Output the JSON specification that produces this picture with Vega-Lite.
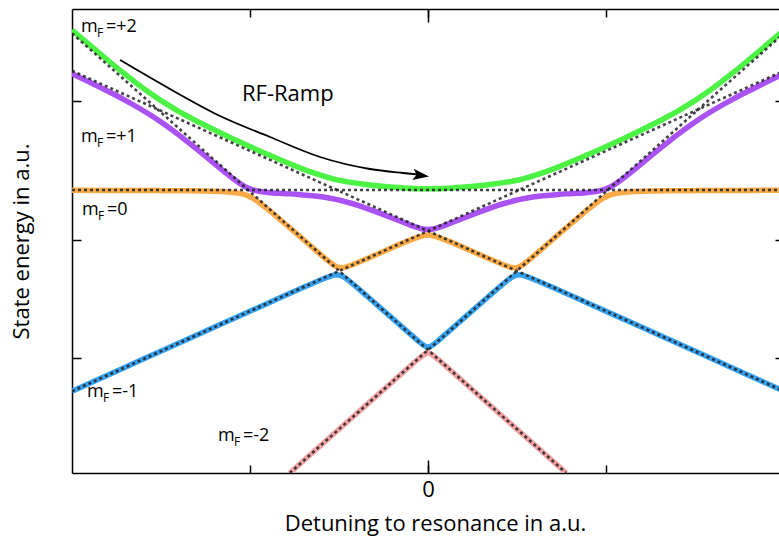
{
  "$schema": "https://vega.github.io/schema/vega-lite/v6.json",
  "width": 707,
  "height": 464,
  "autosize": {"type": "none"},
  "padding": {"left": 72, "top": 9, "right": 0, "bottom": 69},
  "background": "white",
  "config": {"view": {"stroke": null}, "font": "Open Sans"},
  "datasets": {
    "adiabatic": [
      {"s":"green","u":-356,"E":443.0},{"s":"green","u":-340,"E":429.3},{"s":"green","u":-320,"E":412.5},{"s":"green","u":-305,"E":400.3},{"s":"green","u":-290,"E":388.6},{"s":"green","u":-278,"E":379.9},{"s":"green","u":-270,"E":374.4},{"s":"green","u":-262,"E":369.3},{"s":"green","u":-252,"E":363.2},{"s":"green","u":-240,"E":356.5},{"s":"green","u":-225,"E":348.7},{"s":"green","u":-200,"E":336.5},{"s":"green","u":-180,"E":327.3},{"s":"green","u":-160,"E":318.4},{"s":"green","u":-145,"E":312.0},{"s":"green","u":-130,"E":305.9},{"s":"green","u":-115,"E":300.3},{"s":"green","u":-100,"E":295.5},{"s":"green","u":-92,"E":293.3},{"s":"green","u":-80,"E":291.1},{"s":"green","u":-60,"E":288.2},{"s":"green","u":-40,"E":286.2},{"s":"green","u":-20,"E":284.8},
      {"s":"green","u":0,"E":284.3},
      {"s":"green","u":20,"E":284.8},{"s":"green","u":40,"E":286.2},{"s":"green","u":60,"E":288.2},{"s":"green","u":80,"E":291.1},{"s":"green","u":92,"E":293.3},{"s":"green","u":100,"E":295.5},{"s":"green","u":115,"E":300.3},{"s":"green","u":130,"E":305.9},{"s":"green","u":145,"E":312.0},{"s":"green","u":160,"E":318.4},{"s":"green","u":180,"E":327.3},{"s":"green","u":200,"E":336.5},{"s":"green","u":225,"E":348.7},{"s":"green","u":240,"E":356.5},{"s":"green","u":252,"E":363.2},{"s":"green","u":262,"E":369.3},{"s":"green","u":270,"E":374.4},{"s":"green","u":278,"E":379.9},{"s":"green","u":290,"E":388.6},{"s":"green","u":305,"E":400.3},{"s":"green","u":320,"E":412.5},{"s":"green","u":340,"E":429.3},{"s":"green","u":356,"E":443.0},

      {"s":"purple","u":-356,"E":399.4},{"s":"purple","u":-340,"E":391.6},{"s":"purple","u":-320,"E":381.7},{"s":"purple","u":-305,"E":373.9},{"s":"purple","u":-290,"E":365.5},{"s":"purple","u":-278,"E":358.2},{"s":"purple","u":-270,"E":353.0},{"s":"purple","u":-262,"E":347.4},{"s":"purple","u":-252,"E":340.1},{"s":"purple","u":-240,"E":330.8},{"s":"purple","u":-225,"E":318.8},{"s":"purple","u":-210,"E":306.5},{"s":"purple","u":-200,"E":298.4},{"s":"purple","u":-192,"E":292.2},{"s":"purple","u":-186,"E":288.1},{"s":"purple","u":-180,"E":284.9},{"s":"purple","u":-174,"E":282.8},{"s":"purple","u":-168,"E":281.5},{"s":"purple","u":-160,"E":280.6},{"s":"purple","u":-145,"E":279.5},{"s":"purple","u":-130,"E":278.6},{"s":"purple","u":-115,"E":277.2},{"s":"purple","u":-105,"E":276.0},{"s":"purple","u":-98,"E":274.8},{"s":"purple","u":-92,"E":273.6},{"s":"purple","u":-88,"E":272.7},{"s":"purple","u":-84,"E":271.7},{"s":"purple","u":-78,"E":270.0},{"s":"purple","u":-70,"E":267.6},{"s":"purple","u":-60,"E":264.2},{"s":"purple","u":-45,"E":258.6},{"s":"purple","u":-30,"E":252.7},{"s":"purple","u":-20,"E":248.8},{"s":"purple","u":-10,"E":245.3},{"s":"purple","u":-5,"E":244.0},
      {"s":"purple","u":0,"E":243.5},
      {"s":"purple","u":5,"E":244.0},{"s":"purple","u":10,"E":245.3},{"s":"purple","u":20,"E":248.8},{"s":"purple","u":30,"E":252.7},{"s":"purple","u":45,"E":258.6},{"s":"purple","u":60,"E":264.2},{"s":"purple","u":70,"E":267.6},{"s":"purple","u":78,"E":270.0},{"s":"purple","u":84,"E":271.7},{"s":"purple","u":88,"E":272.7},{"s":"purple","u":92,"E":273.6},{"s":"purple","u":98,"E":274.8},{"s":"purple","u":105,"E":276.0},{"s":"purple","u":115,"E":277.2},{"s":"purple","u":130,"E":278.6},{"s":"purple","u":145,"E":279.5},{"s":"purple","u":160,"E":280.6},{"s":"purple","u":168,"E":281.5},{"s":"purple","u":174,"E":282.8},{"s":"purple","u":180,"E":284.9},{"s":"purple","u":186,"E":288.1},{"s":"purple","u":192,"E":292.2},{"s":"purple","u":200,"E":298.4},{"s":"purple","u":210,"E":306.5},{"s":"purple","u":225,"E":318.8},{"s":"purple","u":240,"E":330.8},{"s":"purple","u":252,"E":340.1},{"s":"purple","u":262,"E":347.4},{"s":"purple","u":270,"E":353.0},{"s":"purple","u":278,"E":358.2},{"s":"purple","u":290,"E":365.5},{"s":"purple","u":305,"E":373.9},{"s":"purple","u":320,"E":381.7},{"s":"purple","u":340,"E":391.6},{"s":"purple","u":356,"E":399.4},

      {"s":"orange","u":-356,"E":282.7},{"s":"orange","u":-320,"E":282.6},{"s":"orange","u":-270,"E":282.4},{"s":"orange","u":-240,"E":282.2},{"s":"orange","u":-225,"E":282.0},{"s":"orange","u":-210,"E":281.6},{"s":"orange","u":-200,"E":281.1},{"s":"orange","u":-192,"E":280.2},{"s":"orange","u":-186,"E":279.1},{"s":"orange","u":-180,"E":277.1},{"s":"orange","u":-174,"E":274.0},{"s":"orange","u":-168,"E":269.8},{"s":"orange","u":-160,"E":263.6},{"s":"orange","u":-145,"E":251.0},{"s":"orange","u":-130,"E":238.1},{"s":"orange","u":-115,"E":225.0},{"s":"orange","u":-105,"E":216.4},{"s":"orange","u":-98,"E":210.7},{"s":"orange","u":-92,"E":206.6},{"s":"orange","u":-88,"E":205.3},{"s":"orange","u":-84,"E":205.5},{"s":"orange","u":-78,"E":207.3},{"s":"orange","u":-70,"E":210.5},{"s":"orange","u":-60,"E":214.8},{"s":"orange","u":-45,"E":221.3},{"s":"orange","u":-30,"E":227.9},{"s":"orange","u":-20,"E":232.1},{"s":"orange","u":-10,"E":235.9},{"s":"orange","u":-5,"E":237.3},
      {"s":"orange","u":0,"E":237.9},
      {"s":"orange","u":5,"E":237.3},{"s":"orange","u":10,"E":235.9},{"s":"orange","u":20,"E":232.1},{"s":"orange","u":30,"E":227.9},{"s":"orange","u":45,"E":221.3},{"s":"orange","u":60,"E":214.8},{"s":"orange","u":70,"E":210.5},{"s":"orange","u":78,"E":207.3},{"s":"orange","u":84,"E":205.5},{"s":"orange","u":88,"E":205.3},{"s":"orange","u":92,"E":206.6},{"s":"orange","u":98,"E":210.7},{"s":"orange","u":105,"E":216.4},{"s":"orange","u":115,"E":225.0},{"s":"orange","u":130,"E":238.1},{"s":"orange","u":145,"E":251.0},{"s":"orange","u":160,"E":263.6},{"s":"orange","u":168,"E":269.8},{"s":"orange","u":174,"E":274.0},{"s":"orange","u":180,"E":277.1},{"s":"orange","u":186,"E":279.1},{"s":"orange","u":192,"E":280.2},{"s":"orange","u":200,"E":281.1},{"s":"orange","u":210,"E":281.6},{"s":"orange","u":225,"E":282.0},{"s":"orange","u":240,"E":282.2},{"s":"orange","u":270,"E":282.4},{"s":"orange","u":320,"E":282.6},{"s":"orange","u":356,"E":282.7},

      {"s":"blue","u":-356,"E":81.8},{"s":"blue","u":-300,"E":107.0},{"s":"blue","u":-250,"E":129.5},{"s":"blue","u":-200,"E":151.9},{"s":"blue","u":-160,"E":169.8},{"s":"blue","u":-130,"E":183.2},{"s":"blue","u":-115,"E":189.8},{"s":"blue","u":-105,"E":194.0},{"s":"blue","u":-98,"E":196.7},{"s":"blue","u":-92,"E":198.2},{"s":"blue","u":-88,"E":197.8},{"s":"blue","u":-84,"E":195.9},{"s":"blue","u":-78,"E":191.4},{"s":"blue","u":-70,"E":184.7},{"s":"blue","u":-60,"E":176.0},{"s":"blue","u":-45,"E":162.9},{"s":"blue","u":-30,"E":149.7},{"s":"blue","u":-20,"E":140.9},{"s":"blue","u":-10,"E":132.2},{"s":"blue","u":-5,"E":128.2},
      {"s":"blue","u":0,"E":125.9},
      {"s":"blue","u":5,"E":128.2},{"s":"blue","u":10,"E":132.2},{"s":"blue","u":20,"E":140.9},{"s":"blue","u":30,"E":149.7},{"s":"blue","u":45,"E":162.9},{"s":"blue","u":60,"E":176.0},{"s":"blue","u":70,"E":184.7},{"s":"blue","u":78,"E":191.4},{"s":"blue","u":84,"E":195.9},{"s":"blue","u":88,"E":197.8},{"s":"blue","u":92,"E":198.2},{"s":"blue","u":98,"E":196.7},{"s":"blue","u":105,"E":194.0},{"s":"blue","u":115,"E":189.8},{"s":"blue","u":130,"E":183.2},{"s":"blue","u":160,"E":169.8},{"s":"blue","u":200,"E":151.9},{"s":"blue","u":250,"E":129.5},{"s":"blue","u":300,"E":107.0},{"s":"blue","u":356,"E":81.8},

      {"s":"pink","u":-138.2,"E":0},{"s":"pink","u":-120,"E":16.2},{"s":"pink","u":-80,"E":51.8},{"s":"pink","u":-45,"E":82.8},{"s":"pink","u":-30,"E":96.1},{"s":"pink","u":-20,"E":105.0},{"s":"pink","u":-10,"E":113.6},{"s":"pink","u":-5,"E":117.6},
      {"s":"pink","u":0,"E":120.0},
      {"s":"pink","u":5,"E":117.6},{"s":"pink","u":10,"E":113.6},{"s":"pink","u":20,"E":105.0},{"s":"pink","u":30,"E":96.1},{"s":"pink","u":45,"E":82.8},{"s":"pink","u":80,"E":51.8},{"s":"pink","u":120,"E":16.2},{"s":"pink","u":138.2,"E":0}
    ],
    "diabatic": [
      {"d":"m0","u":-356,"E":283},{"d":"m0","u":356,"E":283},
      {"d":"m1","u":-356,"E":81.8},{"d":"m1","u":356,"E":402.2},
      {"d":"m1p","u":-356,"E":402.2},{"d":"m1p","u":356,"E":81.8},
      {"d":"m2","u":-138.2,"E":0},{"d":"m2","u":356,"E":439.8},
      {"d":"m2p","u":-356,"E":439.8},{"d":"m2p","u":138.2,"E":0}
    ],
    "arrow": [
      {"u":-308,"E":413},{"u":-258,"E":384},{"u":-208,"E":357},{"u":-158,"E":336},{"u":-108,"E":316},{"u":-58,"E":304},{"u":-25,"E":300},{"u":-10,"E":298.5}
    ],
    "arrowhead": [{"u":-7,"E":297.6}],
    "labels": [
      {"u":-347,"E":441,"r":"=+2"},
      {"u":-347,"E":331,"r":"=+1"},
      {"u":-346,"E":258,"r":"=0"},
      {"u":-341,"E":76,"r":"=-1"},
      {"u":-210,"E":32,"r":"=-2"}
    ],
    "ramp": [{"u":-186,"E":372.3,"t":"RF-Ramp"}]
  },
  "resolve": {"axis": {"x": "independent", "y": "independent"}},
  "layer": [
    {
      "data": {"name": "adiabatic"},
      "mark": {"type": "line", "strokeWidth": 5.5, "interpolate": "monotone", "clip": true},
      "encoding": {
        "x": {"field": "u", "type": "quantitative",
              "scale": {"domain": [-356, 351], "nice": false, "zero": false},
              "axis": {"orient": "bottom", "values": [-178, 0, 178], "labelExpr": "datum.value === 0 ? '0' : ''",
                       "tickSize": -8, "tickWidth": 1.5, "tickColor": "black", "domainColor": "black", "domainWidth": 1.5,
                       "labelFontSize": 22, "labelColor": "black", "labelPadding": 14, "grid": false,
                       "title": "Detuning to resonance in a.u.", "titleFontSize": 22, "titleFontWeight": "normal",
                       "titleColor": "black", "titlePadding": 13, "titleX": 363, "titleAlign": "center"}},
        "y": {"field": "E", "type": "quantitative",
              "scale": {"domain": [0, 464], "nice": false, "zero": false},
              "axis": {"orient": "left", "values": [115, 233, 372], "labels": false, "tickSize": -9, "tickWidth": 1.5,
                       "tickColor": "black", "domainColor": "black", "domainWidth": 1.5, "grid": false,
                       "title": "State energy in a.u.", "titleFontSize": 22, "titleFontWeight": "normal",
                       "titleColor": "black", "titlePadding": 38}},
        "color": {"field": "s", "type": "nominal",
                  "scale": {"domain": ["green", "purple", "orange", "blue", "pink"],
                            "range": ["#4cf244", "#aa52f4", "#fbaa48", "#38a2ee", "#f2a4a4"]},
                  "legend": null}
      }
    },
    {
      "data": {"name": "diabatic"},
      "mark": {"type": "line", "strokeWidth": 2.6, "strokeDash": [3, 3], "color": "#222228", "opacity": 0.85, "clip": true},
      "encoding": {
        "x": {"field": "u", "type": "quantitative",
              "axis": {"orient": "top", "values": [-178, 0, 178], "labels": false, "tickSize": -8, "tickWidth": 1.5,
                       "tickColor": "black", "domainColor": "black", "domainWidth": 1.5, "grid": false, "title": null}},
        "y": {"field": "E", "type": "quantitative",
              "axis": {"orient": "right", "values": [115, 233, 372], "labels": false, "tickSize": -4, "tickWidth": 1.5,
                       "tickColor": "black", "domain": false, "grid": false, "title": null}},
        "detail": {"field": "d", "type": "nominal"}
      }
    },
    {
      "data": {"name": "arrow"},
      "mark": {"type": "line", "strokeWidth": 1.8, "color": "black", "interpolate": "monotone"},
      "encoding": {
        "x": {"field": "u", "type": "quantitative",
              "axis": {"orient": "bottom", "values": [0], "labels": false, "tickSize": -13, "tickWidth": 1.5,
                       "tickColor": "black", "domain": false, "grid": false, "title": null}},
        "y": {"field": "E", "type": "quantitative", "axis": null}
      }
    },
    {
      "data": {"name": "arrowhead"},
      "mark": {"type": "point", "shape": "M1,0L-1,-0.7L-0.55,0L-1,0.7Z", "filled": true, "color": "black", "size": 260, "angle": 7, "opacity": 1},
      "encoding": {
        "x": {"field": "u", "type": "quantitative",
              "axis": {"orient": "top", "values": [0], "labels": false, "tickSize": -13, "tickWidth": 1.5,
                       "tickColor": "black", "domain": false, "grid": false, "title": null}},
        "y": {"field": "E", "type": "quantitative", "axis": null}
      }
    },
    {
      "data": {"name": "labels"},
      "mark": {"type": "text", "text": "m", "align": "left", "baseline": "alphabetic", "fontSize": 18, "color": "black"},
      "encoding": {
        "x": {"field": "u", "type": "quantitative", "axis": null},
        "y": {"field": "E", "type": "quantitative", "axis": null}
      }
    },
    {
      "data": {"name": "labels"},
      "mark": {"type": "text", "text": "F", "align": "left", "baseline": "alphabetic", "fontSize": 12, "dx": 16, "dy": 5, "color": "black"},
      "encoding": {
        "x": {"field": "u", "type": "quantitative", "axis": null},
        "y": {"field": "E", "type": "quantitative", "axis": null}
      }
    },
    {
      "data": {"name": "labels"},
      "mark": {"type": "text", "align": "left", "baseline": "alphabetic", "fontSize": 18, "dx": 25, "color": "black"},
      "encoding": {
        "x": {"field": "u", "type": "quantitative", "axis": null},
        "y": {"field": "E", "type": "quantitative", "axis": null},
        "text": {"field": "r"}
      }
    },
    {
      "data": {"name": "ramp"},
      "mark": {"type": "text", "align": "left", "baseline": "alphabetic", "fontSize": 22, "color": "black"},
      "encoding": {
        "x": {"field": "u", "type": "quantitative", "axis": null},
        "y": {"field": "E", "type": "quantitative", "axis": null},
        "text": {"field": "t"}
      }
    }
  ]
}
